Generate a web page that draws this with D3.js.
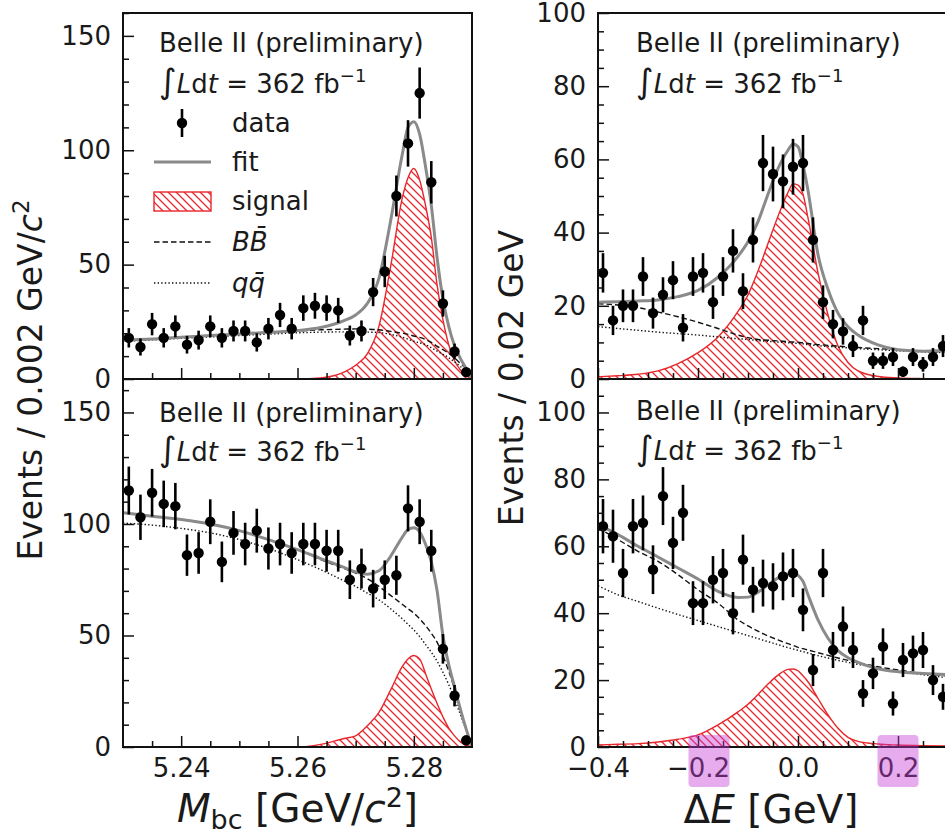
<!DOCTYPE html>
<html><head><meta charset="utf-8">
<script src="https://cdn.jsdelivr.net/npm/d3@7/dist/d3.min.js"></script>
<style>
html,body{margin:0;padding:0;background:#fff;}
svg{display:block;}
text{font-family:"DejaVu Sans",sans-serif;fill:#1a1a1a;}
</style></head><body>
<svg id="chart" width="945" height="837"></svg>
<script>
// ---------------- DATA ----------------
const mbcBinCenters = [5.231,5.233,5.235,5.237,5.239,5.241,5.243,5.245,5.247,5.249,5.251,5.253,5.255,5.257,5.259,5.261,5.263,5.265,5.267,5.269,5.271,5.273,5.275,5.277,5.279,5.281,5.283,5.285,5.287,5.289];
const mbcSignalRegionCounts = [18,14,24,18,23,15,17,23,18,21,21,16,22,28,22,31,32,31,30,19,21,38,47,80,103,125,86,33,12,3];
const mbcSidebandCounts = [115,103,114,109,108,86,87,101,83,96,91,97,89,91,87,91,91,88,88,75,80,71,75,77,107,101,88,44,23,3];

const deBinCenters = [-0.39,-0.37,-0.35,-0.33,-0.31,-0.29,-0.27,-0.25,-0.23,-0.21,-0.19,-0.17,-0.15,-0.13,-0.11,-0.09,-0.07,-0.05,-0.03,-0.01,0.01,0.03,0.05,0.07,0.09,0.11,0.13,0.15,0.17,0.19,0.21,0.23,0.25,0.27,0.29];
const deSignalRegionCounts = [29,16,20,20,28,18,23,27,14,28,29,21,28,35,24,38,59,56,54,58,59,38,21,15,13,9,16,5,5,6,2,6,4,6,9];
const deSidebandCounts = [66,63,52,66,67,53,75,61,70,43,43,50,52,40,56,47,49,48,51,52,41,23,52,29,36,29,16,22,30,13,26,28,29,20,15];

// fit-curve sample positions
const mbcCurveGrid = [5.230,5.235,5.240,5.245,5.250,5.255,5.260,5.264,5.268,5.270,5.272,5.274,5.276,5.278,5.279,5.280,5.281,5.282,5.283,5.284,5.285,5.286,5.287,5.288,5.289,5.290];
const mbcSR_fit    = [17,17.5,18.3,19,19.7,20.4,21.2,22.5,25.5,28,33,44,69,98,110,112.5,107,93,76,53,35,23,14.5,9,4.5,0];
const mbcSR_signal = [null,null,null,0,0,0,0,0.5,3,6,11,23,49,79,88,92,87,76,62,41,26,15,8,4,1.5,0];
const mbcSR_bbbar  = [17,17.5,18.3,18.9,19.6,20.3,21,21.5,21.8,21.9,21.8,21.5,20.8,20,19.5,18.8,18.2,17.3,16,14.3,12.8,11.2,9.2,6.8,4.3,0];
const mbcSR_qqbar  = [16.5,17.1,17.8,18.4,19,19.6,20.2,20.5,20.6,20.6,20.5,20.3,19.5,18.3,17.4,16.5,15.8,15,13.7,12.2,10.8,9.3,7.5,5.5,3.3,0];

const mbcSB_fit    = [105,103.5,102,100,97,93,88.5,84.5,80.5,78.5,77.5,79,85.5,94,97.5,98.3,96.5,91,83,70,50,37,27,17,8,0];
const mbcSB_signal = [null,null,0,0,0,0,0,1.2,3.8,5,9.5,15.5,25.5,36,39.5,41,39.5,33,26,19.5,13.5,8.5,5,2.3,0.8,0];
const mbcSB_bbbar  = [105,103.5,102,100,97,93,88.5,84,80,78,75.5,72,68,64,62,60,57.5,54.5,51,47,41,34,26,17,8,0];
const mbcSB_qqbar  = [100.4,99.5,98,96,93,89,84,79.5,74.5,72,69,66,62,57.5,55,52.5,49.5,46,42.5,38.5,33.5,28,21.5,14.5,7.5,0];

const deCurveGrid = [-0.40,-0.36,-0.32,-0.28,-0.24,-0.20,-0.16,-0.12,-0.10,-0.08,-0.06,-0.04,-0.02,-0.01,0.00,0.01,0.02,0.04,0.06,0.08,0.10,0.12,0.16,0.20,0.25,0.30];
const deSR_fit    = [21,21.1,21.3,21.6,22.5,24.2,27.8,33.5,37.5,43,50.5,57.5,62.5,64.2,63.5,58.5,51.5,34,24.5,18,14.3,12,9.3,8,7.6,7.8];
const deSR_signal = [0.6,0.9,1.3,2.2,4.2,7.2,11.5,18.5,23,29.5,37,44.5,51,53.3,53,50.5,44,29,17.5,9,4.5,2.2,0.7,0.3,0.1,0];
const deSR_bbbar  = [20.6,20.2,19.5,18.3,17,15.5,13.8,12,11.3,10.8,10.6,10.4,10.2,10.1,10,9.9,9.7,9.4,9.2,9,8.8,8.6,8.3,8,7.6,7.4];
const deSR_qqbar  = [14.3,13.8,13.3,12.8,12.4,12,11.5,11,10.8,10.5,10.3,10.1,9.9,9.8,9.7,9.6,9.4,9.1,8.9,8.7,8.5,8.3,8,7.7,7.4,7.2];

const deSB_fit    = [66.5,63.5,60,56.8,53.5,50.2,46.5,44.7,44.8,46.3,48.5,50.5,51.7,51.9,51.3,49.5,45.5,38,32.5,28.8,26.7,25.3,23.4,22.5,22,21.6];
const deSB_signal = [0.6,0.8,1,1.5,2.3,3.6,6.6,10.5,12.8,15.7,18.8,21.5,23.2,23.3,22.8,21.3,19.5,14.5,9.6,5.6,2.9,1.7,0.9,0.6,0.4,0.3];
const deSB_bbbar  = [65.5,62,58.5,55.5,51.5,47,43,38,36.2,34.6,33.2,32,30.9,30.4,29.8,29.4,29,28.2,27.4,26.6,25.9,25.2,24,23,22,21.2];
const deSB_qqbar  = [48.2,45.5,43.5,41.5,39.6,37.8,36,34.2,33.3,32.4,31.5,30.6,29.7,29.3,28.9,28.5,28.1,27.3,26.6,25.9,25.3,24.7,23.6,22.6,21.6,20.7];

// axis ticks
const mbcMajorTicks = [5.24,5.26,5.28];
const mbcMinorTicks = [5.235,5.245,5.25,5.255,5.265,5.27,5.275,5.285];
const deMajorTicks = [-0.4,-0.2,0.0,0.2];
const deMinorTicks = [-0.35,-0.3,-0.25,-0.15,-0.1,-0.05,0.05,0.1,0.15,0.25];
const mbcYMajor = [0,50,100,150];
const mbcYMinor = [10,20,30,40,60,70,80,90,110,120,130,140,160];
const deYMajor = [0,20,40,60,80,100];
const deYMinor = [5,10,15,25,30,35,45,50,55,65,70,75,85,90,95,105];
const highlightedTicks = [-0.2,0.2];

const legendLabels = ["data","fit","signal","BB\u0304","qq\u0304"];

// ---------------- DRAW ----------------
const svg = d3.select("#chart");
const sigColor = "#e8262b";
const fitColor = "#8a8a8a";
const defs = svg.append("defs");
const pat = defs.append("pattern").attr("id","hatch").attr("patternUnits","userSpaceOnUse")
  .attr("width",8).attr("height",8);
pat.append("path").attr("d","M-2,-2 L10,10 M-2,6 L2,10 M6,-2 L10,2")
  .attr("stroke",sigColor).attr("stroke-width",1.3).attr("fill","none");

const L = {left:123, right:472}, R = {left:598, right:948};
const T = {top:13, bottom:379}, B = {top:379, bottom:747};

function zip(xs, ys){ return xs.map((v,i)=>[v, ys[i]]); }

function makePanel(o){
  const x = d3.scaleLinear().domain(o.xDomain).range([o.box.left,o.box.right]);
  const y = d3.scaleLinear().domain(o.yDomain).range([o.vbox.bottom,o.vbox.top]);
  const g = svg.append("g");
  const cid = "clip"+o.id;
  defs.append("clipPath").attr("id",cid).append("rect")
    .attr("x",o.box.left).attr("y",o.vbox.top)
    .attr("width",o.box.right-o.box.left).attr("height",o.vbox.bottom-o.vbox.top);
  const pg = g.append("g").attr("clip-path",`url(#${cid})`);

  const sig = zip(o.grid,o.signal);
  const area = d3.area().defined(d=>d[1]!=null).x(d=>x(d[0])).y0(y(0)).y1(d=>y(d[1])).curve(d3.curveMonotoneX);
  const line = d3.line().defined(d=>d[1]!=null).x(d=>x(d[0])).y(d=>y(d[1])).curve(d3.curveMonotoneX);
  pg.append("path").datum(sig).attr("d",area).attr("fill","url(#hatch)").attr("stroke",sigColor).attr("stroke-width",1.4);
  pg.append("path").datum(zip(o.grid,o.qq)).attr("d",line).attr("fill","none")
    .attr("stroke","#111").attr("stroke-width",1.4).attr("stroke-dasharray","1.4,2.2");
  pg.append("path").datum(zip(o.grid,o.bb)).attr("d",line).attr("fill","none")
    .attr("stroke","#111").attr("stroke-width",1.4).attr("stroke-dasharray","5.5,3");
  pg.append("path").datum(zip(o.grid,o.fit)).attr("d",line).attr("fill","none")
    .attr("stroke",fitColor).attr("stroke-width",3);

  const pts = zip(o.bins,o.counts);
  pg.append("g").selectAll("line").data(pts).join("line")
    .attr("x1",d=>x(d[0])).attr("x2",d=>x(d[0]))
    .attr("y1",d=>y(d[1]-Math.sqrt(d[1]))).attr("y2",d=>y(d[1]+Math.sqrt(d[1])))
    .attr("stroke","#000").attr("stroke-width",2.6);
  pg.append("g").selectAll("circle").data(pts).join("circle")
    .attr("cx",d=>x(d[0])).attr("cy",d=>y(d[1])).attr("r",5.2).attr("fill","#000");

  // axes (ticks inward)
  const ax = g.append("g").attr("transform",`translate(0,${o.vbox.bottom})`)
    .call(d3.axisBottom(x).tickValues(o.xMajor).tickSize(-11).tickPadding(13)
      .tickFormat(o.showX ? (d=>d3.format(o.xFmt)(d).replace("-","\u2212")) : ""));
  const axm = g.append("g").attr("transform",`translate(0,${o.vbox.bottom})`)
    .call(d3.axisBottom(x).tickValues(o.xMinor).tickSize(-6).tickFormat(""));
  const ay = g.append("g").attr("transform",`translate(${o.box.left},0)`)
    .call(d3.axisLeft(y).tickValues(o.yMajor).tickSize(-11).tickPadding(12).tickFormat(d3.format("d")));
  const aym = g.append("g").attr("transform",`translate(${o.box.left},0)`)
    .call(d3.axisLeft(y).tickValues(o.yMinor).tickSize(-6).tickFormat(""));
  [ax,axm,ay,aym].forEach(a=>{
    a.select(".domain").remove();
    a.selectAll(".tick line").attr("stroke","#111").attr("stroke-width",1.5);
    a.selectAll(".tick text").style("font-size","26px").style("font-family","DejaVu Sans").attr("fill","#1a1a1a");
  });
  ax.selectAll(".tick text").attr("dy","0.66em");

  // frame
  g.append("rect").attr("x",o.box.left).attr("y",o.vbox.top)
    .attr("width",o.box.right-o.box.left).attr("height",o.vbox.bottom-o.vbox.top)
    .attr("fill","none").attr("stroke","#111").attr("stroke-width",2);

  // annotation
  const tx = o.box.left + o.textDx;
  g.append("text").attr("x",tx).attr("y",o.vbox.top+o.line1).style("font-size","26px").text("Belle II (preliminary)");
  const t2 = g.append("text").attr("x",tx).attr("y",o.vbox.top+o.line2).style("font-size","26px");
  t2.append("tspan").text("\u222B").style("font-size","34px");
  t2.append("tspan").text("L").style("font-style","italic");
  t2.append("tspan").text("d");
  t2.append("tspan").text("t").style("font-style","italic");
  t2.append("tspan").text(" = 362 fb");
  t2.append("tspan").text("\u22121").style("font-size","18px").attr("dy","-11");

  return {x,y,g};
}

const pTL = makePanel({id:"TL",box:L,vbox:T,xDomain:[5.23,5.29],yDomain:[0,160],
  grid:mbcCurveGrid,signal:mbcSR_signal,bb:mbcSR_bbbar,qq:mbcSR_qqbar,fit:mbcSR_fit,
  bins:mbcBinCenters,counts:mbcSignalRegionCounts,xMajor:mbcMajorTicks,xMinor:mbcMinorTicks,
  yMajor:mbcYMajor,yMinor:mbcYMinor,showX:false,xFmt:".2f",textDx:36,line1:39,line2:80});
const pBL = makePanel({id:"BL",box:L,vbox:B,xDomain:[5.23,5.29],yDomain:[0,165],
  grid:mbcCurveGrid,signal:mbcSB_signal,bb:mbcSB_bbbar,qq:mbcSB_qqbar,fit:mbcSB_fit,
  bins:mbcBinCenters,counts:mbcSidebandCounts,xMajor:mbcMajorTicks,xMinor:mbcMinorTicks,
  yMajor:mbcYMajor,yMinor:mbcYMinor,showX:true,xFmt:".2f",textDx:36,line1:43,line2:82});
const pTR = makePanel({id:"TR",box:R,vbox:T,xDomain:[-0.4,0.3],yDomain:[0,100],
  grid:deCurveGrid,signal:deSR_signal,bb:deSR_bbbar,qq:deSR_qqbar,fit:deSR_fit,
  bins:deBinCenters,counts:deSignalRegionCounts,xMajor:deMajorTicks,xMinor:deMinorTicks,
  yMajor:deYMajor,yMinor:deYMinor.filter(v=>v<100),showX:false,xFmt:".1f",textDx:38,line1:39,line2:80});
const pBR = makePanel({id:"BR",box:R,vbox:B,xDomain:[-0.4,0.3],yDomain:[0,110],
  grid:deCurveGrid,signal:deSB_signal,bb:deSB_bbbar,qq:deSB_qqbar,fit:deSB_fit,
  bins:deBinCenters,counts:deSidebandCounts,xMajor:deMajorTicks,xMinor:deMinorTicks,
  yMajor:deYMajor,yMinor:deYMinor,showX:true,xFmt:".1f",textDx:38,line1:41,line2:81});

// legend (top-left panel)
const lg = svg.append("g");
const lx0 = 154, lx1 = 211, ltx = 232;
const rows = [123,162,201,242,283];
lg.append("line").attr("x1",182).attr("x2",182).attr("y1",rows[0]-14).attr("y2",rows[0]+14).attr("stroke","#000").attr("stroke-width",2.6);
lg.append("circle").attr("cx",182).attr("cy",rows[0]).attr("r",5.2).attr("fill","#000");
lg.append("line").attr("x1",lx0).attr("x2",lx1).attr("y1",rows[1]).attr("y2",rows[1]).attr("stroke",fitColor).attr("stroke-width",3);
lg.append("rect").attr("x",lx0).attr("y",rows[2]-9).attr("width",lx1-lx0).attr("height",19).attr("fill","url(#hatch)").attr("stroke",sigColor).attr("stroke-width",1.4);
lg.append("line").attr("x1",lx0).attr("x2",lx1).attr("y1",rows[3]).attr("y2",rows[3]).attr("stroke","#111").attr("stroke-width",1.4).attr("stroke-dasharray","5.5,3");
lg.append("line").attr("x1",lx0).attr("x2",lx1).attr("y1",rows[4]).attr("y2",rows[4]).attr("stroke","#111").attr("stroke-width",1.4).attr("stroke-dasharray","1.4,2.2");
legendLabels.forEach((lab,i)=>{
  const t = lg.append("text").attr("x",ltx).attr("y",rows[i]+9).style("font-size","26px").text(lab);
  if(i>=3) t.style("font-style","italic");
});

// x-axis labels
const xl1 = svg.append("text").attr("x",(L.left+L.right)/2).attr("y",822).attr("text-anchor","middle").style("font-size","39px");
xl1.append("tspan").text("M").style("font-style","italic");
xl1.append("tspan").text("bc").style("font-size","27px").attr("dy","7");
xl1.append("tspan").text(" [GeV/").attr("dy","-7");
xl1.append("tspan").text("c").style("font-style","italic");
xl1.append("tspan").text("2").style("font-size","27px").attr("dy","-15");
xl1.append("tspan").text("]").attr("dy","15");

const xl2 = svg.append("text").attr("x",(R.left+R.right)/2 - 2).attr("y",823).attr("text-anchor","middle").style("font-size","39px");
xl2.append("tspan").text("\u0394");
xl2.append("tspan").text("E").style("font-style","italic");
xl2.append("tspan").text(" [GeV]");

// y-axis labels
const yl1 = svg.append("text").attr("transform","translate(42,380) rotate(-90)").attr("text-anchor","middle").style("font-size","33px");
yl1.append("tspan").text("Events / 0.002 GeV/");
yl1.append("tspan").text("c").style("font-style","italic");
yl1.append("tspan").text("2").style("font-size","23px").attr("dy","-13");
const yl2 = svg.append("text").attr("transform","translate(523,378) rotate(-90)").attr("text-anchor","middle").style("font-size","33px")
  .text("Events / 0.02 GeV");

// highlight boxes over the digits of two tick labels
const hx = pBR.x;
svg.append("g").selectAll("rect").data(highlightedTicks).join("rect")
  .attr("x",d=>hx(d) + (d<0 ? 11 : 0) - 20.5).attr("y",735).attr("width",41).attr("height",52)
  .attr("rx",4).attr("fill","#c43ad6").attr("opacity",0.42);
</script></body></html>
